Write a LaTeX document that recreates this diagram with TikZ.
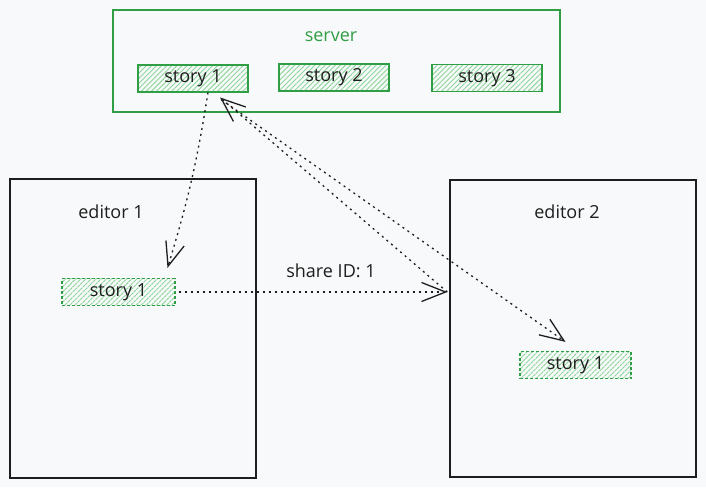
\documentclass[tikz,border=0pt]{standalone}
\usepackage{fontspec}
\setmainfont{Open Sans}
\usepackage{tikz}
\usetikzlibrary{calc,arrows.meta,patterns.meta}
\definecolor{paper}{HTML}{F8F9FA}
\definecolor{ink}{HTML}{1E1E1E}
\definecolor{leaf}{HTML}{2F9E44}
\definecolor{hatch}{HTML}{8DD69A}

\begin{document}
\begin{tikzpicture}[x=1pt,y=-1pt,
    frame/.style={draw=ink, line width=1.4pt, inner sep=0pt},
    storybox/.style={draw=leaf, line width=1.2pt, inner sep=0pt,
      minimum width=110pt, minimum height=27pt, text=ink,
      font=\fontsize{18}{21}\selectfont,
      pattern={Lines[angle=45,distance=3.6pt,line width=0.9pt]}, pattern color=hatch},
    localbox/.style={storybox, dash pattern=on 3pt off 2pt},
    lbl/.style={font=\fontsize{18}{21}\selectfont, text=ink},
    link/.style={-{Straight Barb[length=24pt,width=19pt]}, ink, line width=1.3pt,
      dash pattern=on 2pt off 4pt}]
  \fill[paper] (0,0) rectangle (706,487);
  \useasboundingbox (0,0) rectangle (706,487);

  % server with its stories
  \node[frame, draw=leaf, minimum width=447pt, minimum height=102pt] (srv) at (336.5,61) {};
  \node[lbl, text=leaf] (srvlbl) at (331,37) {server};
  \node[storybox] (story1) at (193,78.5) {story 1};
  \node[storybox] (story2) at (334,77.5) {story 2};
  \node[storybox] (story3) at (487,78) {story 3};

  % the two editors
  \node[frame, minimum width=246pt, minimum height=299pt] (ed1) at (133,328.5) {};
  \node[lbl] (ed1lbl) at (111,212) {editor 1};
  \node[localbox, minimum width=113pt] (ed1story) at (118.5,292) {story 1};

  \node[frame, minimum width=246pt, minimum height=297pt] (ed2) at (573,328.5) {};
  \node[lbl] (ed2lbl) at (567,212) {editor 2};
  \node[localbox, minimum width=111pt] (ed2story) at (575.5,365) {story 1};

  \node[lbl] (sharelbl) at (331,271) {share ID: 1};

  % links
  \draw[link] ([xshift=15pt]story1.south) to[bend left=4] ([xshift=49pt,yshift=10pt]ed1story.north);
  \draw[link] ([xshift=3pt]ed1story.east) -- ([xshift=-2pt]ed1story.east -| ed2.west);
  \draw[link] ([xshift=-2pt]ed1story.east -| ed2.west) -- ([xshift=27pt,yshift=-5pt]story1.south);
  \draw[link] ([xshift=28pt,yshift=-7pt]story1.south) -- ([xshift=-10pt,yshift=9pt]ed2story.north);
\end{tikzpicture}
\end{document}
